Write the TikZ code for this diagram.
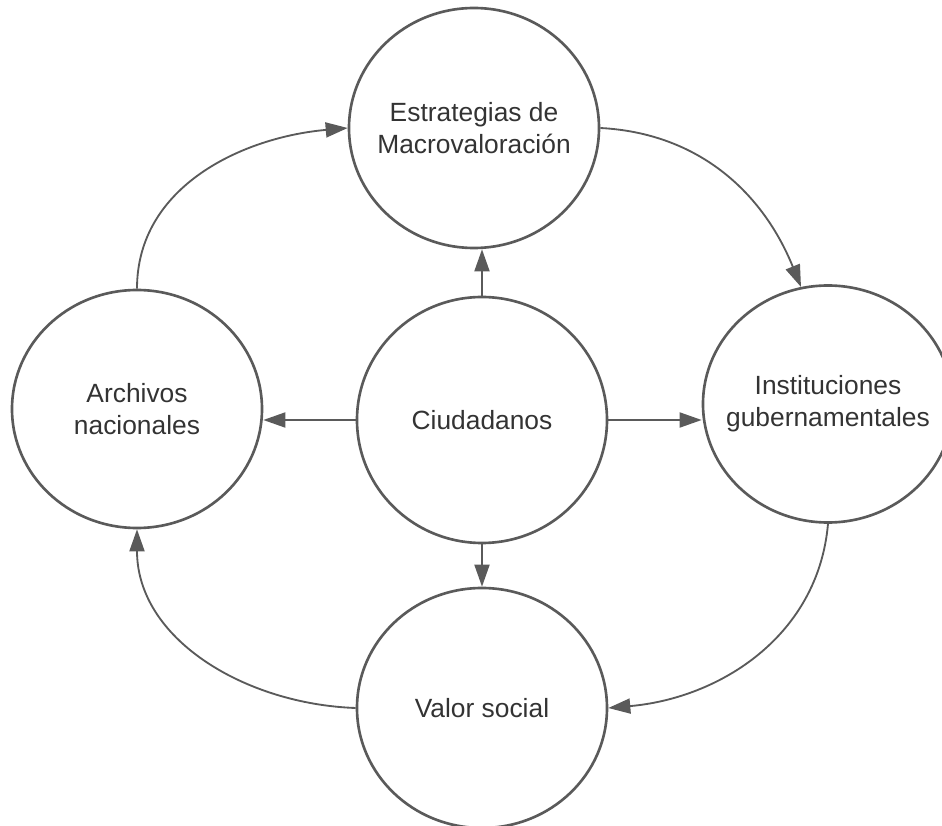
\documentclass[tikz,border=0pt]{standalone}
\usepackage{fontspec}
\setmainfont{Liberation Sans}
\usetikzlibrary{arrows.meta, shapes.geometric}

\definecolor{linegray}{HTML}{5A5A5A}
\definecolor{textgray}{HTML}{333333}

\tikzset{
  circ/.style={ellipse, draw=linegray, line width=1.5pt, minimum width=5cm, minimum height=4.8cm,
    align=center, text=textgray, font=\fontsize{15}{18.2}\selectfont, inner xsep=-1cm, inner ysep=0pt},
  arr/.style={draw=linegray, line width=1.05pt, -{Triangle[length=4.4mm, width=3mm]}}
}

\begin{document}
\begin{tikzpicture}
                \useasboundingbox (0,0) rectangle (18.84,16.5);

                % Circles
                \node[circ] (macro) at (9.48,13.94) {Estrategias de\\Macrovaloración};
                \node[circ, minimum height=4.92cm] (ciud) at (9.64,8.10) {Ciudadanos};
                \node[circ, minimum height=4.76cm] (arch) at (2.74,8.32) {Archivos\\nacionales};
                \node[circ, minimum height=4.74cm] (inst) at (16.56,8.42) {Instituciones\\gubernamentales};
                \node[circ] (valor) at (9.64,2.34) {Valor social};

                % From citizens
                \draw[arr] (ciud.north) -- (ciud.north |- macro.south);
                \draw[arr] (ciud.west) -- (ciud.west -| arch.east);
                \draw[arr] (ciud.east) -- (ciud.east -| inst.west);
                \draw[arr] (ciud.south) -- (valor.north);

                % Outer cycle
                \draw[arr] (arch.north) to[out=90, in=185] (macro.west);
                \draw[arr] (macro.east) to[out=-3, in=112] (inst.103);
                \draw[arr] (inst.south) to[out=-95, in=5] (valor.east);
                \draw[arr] (valor.west) to[out=178, in=-90] (arch.south);
            \end{tikzpicture}
\end{document}
